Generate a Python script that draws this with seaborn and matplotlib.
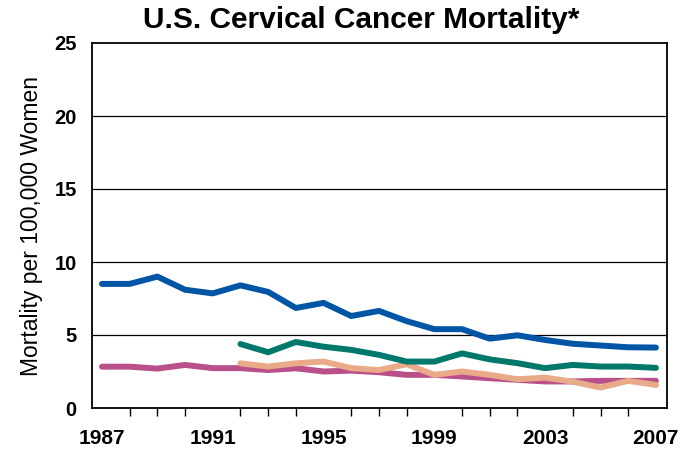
import pandas as pd
import matplotlib.pyplot as plt
from matplotlib.ticker import MultipleLocator, FixedLocator
import seaborn as sns

# 数据
years = list(range(1987, 2008))
years_late = list(range(1992, 2008))

blue_vals = [8.5, 8.5, 9.0, 8.1, 7.85, 8.4, 7.95, 6.85, 7.2, 6.3, 6.65,
             5.95, 5.4, 5.4, 4.75, 4.98, 4.66, 4.4, 4.28, 4.16, 4.14]
pink_vals = [2.83, 2.83, 2.7, 2.95, 2.73, 2.73, 2.6, 2.72, 2.5, 2.56, 2.45,
             2.27, 2.27, 2.16, 2.04, 1.93, 1.82, 1.82, 1.86, 1.86, 1.86]
teal_vals = [4.38, 3.82, 4.52, 4.2, 3.98, 3.64, 3.18, 3.18, 3.74, 3.33,
             3.07, 2.73, 2.95, 2.84, 2.84, 2.75]
tan_vals = [3.06, 2.84, 3.06, 3.18, 2.73, 2.6, 3.0, 2.27, 2.5, 2.27,
            1.97, 2.08, 1.8, 1.4, 1.86, 1.58]

colors = {'blue': '#0055a5', 'teal': '#00786c', 'pink': '#b9508a', 'tan': '#e9aa88'}

df_blue = pd.DataFrame({'year': years, 'rate': blue_vals})
df_pink = pd.DataFrame({'year': years, 'rate': pink_vals})
df_teal = pd.DataFrame({'year': years_late, 'rate': teal_vals})
df_tan = pd.DataFrame({'year': years_late, 'rate': tan_vals})

sns.set_style('white')
plt.rcParams['font.family'] = ['Liberation Sans', 'DejaVu Sans']
for key in ['text.color', 'axes.labelcolor', 'xtick.color', 'ytick.color']:
    plt.rcParams[key] = 'black'

fig = plt.figure(figsize=(6.89, 4.5), dpi=100)
ax = fig.add_axes([92 / 689, 42 / 450, 575 / 689, 365 / 450])

lw = 4.3
sns.lineplot(data=df_pink, x='year', y='rate', color=colors['pink'], linewidth=lw, ax=ax)
sns.lineplot(data=df_tan, x='year', y='rate', color=colors['tan'], linewidth=lw, ax=ax)
sns.lineplot(data=df_teal, x='year', y='rate', color=colors['teal'], linewidth=lw, ax=ax)
sns.lineplot(data=df_blue, x='year', y='rate', color=colors['blue'], linewidth=lw, ax=ax)

ax.set_xlim(1986.64, 2007.4)
ax.set_ylim(0, 25)
for y in [5, 10, 15, 20]:
    ax.axhline(y, color='black', linewidth=0.9, zorder=0)

ax.xaxis.set_major_locator(FixedLocator([1987, 1991, 1995, 1999, 2003, 2007]))
ax.xaxis.set_minor_locator(MultipleLocator(1))
ax.set_yticks([0, 5, 10, 15, 20, 25])
ax.tick_params(axis='x', which='major', direction='out', length=11, width=1, color='black',
               pad=4, labelsize=15)
ax.tick_params(axis='x', which='minor', direction='out', length=6, width=1, color='black', bottom=True)
ax.tick_params(axis='y', which='major', length=0, pad=11, labelsize=14.5)
for lab in ax.get_xticklabels() + ax.get_yticklabels():
    lab.set_fontweight('bold')

for sp in ax.spines.values():
    sp.set_visible(True)
    sp.set_color('black')
    sp.set_linewidth(1.3)

ax.set_xlabel('')
ax.set_ylabel('Mortality per 100,000 Women', fontsize=16.5, labelpad=8)

fig.text(0.5247, 0.955, 'U.S. Cervical Cancer Mortality*', ha='center', va='center',
         fontsize=21.5, fontweight='bold')

fig.savefig('out.png', dpi=100)
